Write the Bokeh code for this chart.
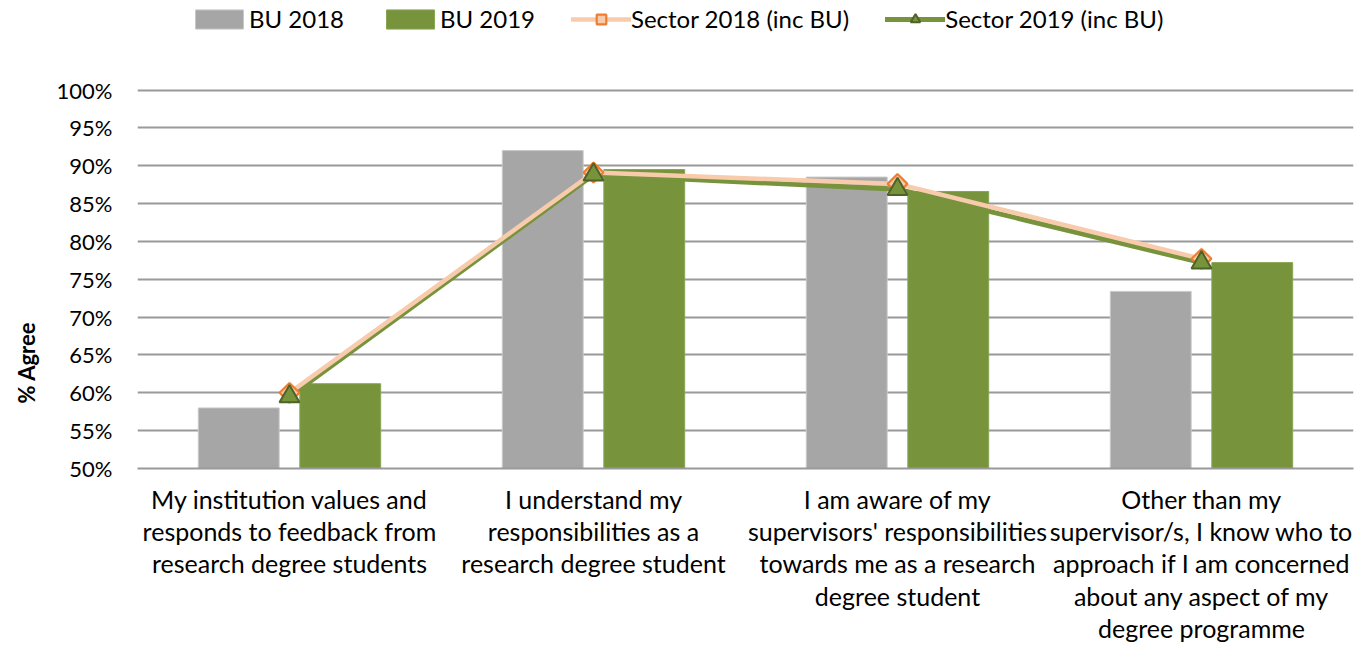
import math
from bokeh.plotting import figure
from bokeh.models import (ColumnDataSource, FactorRange, Range1d, Legend, LegendItem,
                          PrintfTickFormatter, FixedTicker, Title)
from bokeh.transform import dodge
from bokeh.embed import file_html
from bokeh.resources import INLINE

categories = [
    "My institution values and\nresponds to feedback from\nresearch degree students",
    "I understand my\nresponsibilities as a\nresearch degree student",
    "I am aware of my\nsupervisors' responsibilities\ntowards me as a research\ndegree student",
    "Other than my\nsupervisor/s, I know who to\napproach if I am concerned\nabout any aspect of my\ndegree programme",
]
bu_2018 = [58.0, 92.0, 88.5, 73.4]
bu_2019 = [61.2, 89.5, 86.6, 77.2]
sector_2018 = [60.0, 89.1, 87.6, 77.7]
sector_2019 = [59.5, 88.8, 86.9, 77.2]
y_ticks = [50, 55, 60, 65, 70, 75, 80, 85, 90, 95, 100]

src = ColumnDataSource(dict(cat=categories, bu18=bu_2018, bu19=bu_2019,
                            s18=sector_2018, s19=sector_2019))

FONT = "Lato"
GRID = "#999999"

# the frame reaches the top of the canvas so that the legend can sit inside it
p = figure(width=1371, height=648, output_backend="svg", toolbar_location=None,
           x_range=FactorRange(*categories, range_padding=0),
           y_range=Range1d(50, 111.83),
           min_border_left=137, min_border_right=18, min_border_top=0,
           min_border_bottom=180)
p.outline_line_color = None
p.background_fill_color = "white"

b1 = p.vbar(x=dodge("cat", -0.167, range=p.x_range), top="bu18", bottom=50, width=0.266,
            source=src, fill_color="#a6a6a6", line_color="#c8c8c8", line_width=1)
b2 = p.vbar(x=dodge("cat", 0.167, range=p.x_range), top="bu19", bottom=50, width=0.266,
            source=src, fill_color="#77933c", line_color="#8aa654", line_width=1)

l19 = p.line(x="cat", y="s19", source=src, line_color="#77933c", line_width=5,
             line_cap="round")
l18 = p.line(x="cat", y="s18", source=src, line_color="#f8cbad", line_width=4.5,
             line_cap="round")
m18 = p.scatter(x="cat", y="s18", source=src, marker="square", angle=math.pi / 4,
                size=14, fill_color="#f8cbad", line_color="#ed7d31", line_width=2.2)
m19 = p.scatter(x="cat", y="s19", source=src, marker="triangle", size=20,
                fill_color="#77933c", line_color="#4f6228", line_width=2)

# axes
p.yaxis.ticker = FixedTicker(ticks=y_ticks)
p.yaxis.formatter = PrintfTickFormatter(format="%d%%")
p.yaxis.axis_line_color = None
p.yaxis.major_tick_line_color = None
p.yaxis.minor_tick_line_color = None
p.yaxis.major_tick_out = 0
p.yaxis.major_label_standoff = 25
p.yaxis.major_label_text_font = FONT
p.yaxis.major_label_text_font_size = "22px"
p.yaxis.major_label_text_color = "#000000"

p.xaxis.axis_line_color = GRID
p.xaxis.axis_line_width = 2
p.xaxis.major_tick_line_color = None
p.xaxis.minor_tick_line_color = None
p.xaxis.major_tick_out = 0
p.xaxis.major_label_standoff = 15
p.xaxis.major_label_text_font = FONT
p.xaxis.major_label_text_font_size = "25px"
p.xaxis.major_label_text_color = "#000000"
p.xaxis.major_label_text_line_height = 1.08

p.xgrid.grid_line_color = None
p.ygrid.ticker = FixedTicker(ticks=y_ticks)
p.ygrid.grid_line_color = GRID
p.ygrid.grid_line_width = 2

ytitle = Title(text="% Agree", align="left", offset=65, standoff=24, vertical_align="top",
               text_font=FONT, text_font_size="22px", text_font_style="bold",
               text_color="#000000")
p.add_layout(ytitle, "left")

legend = Legend(items=[
    LegendItem(label="BU 2018", renderers=[b1]),
    LegendItem(label="BU 2019", renderers=[b2]),
    LegendItem(label="Sector 2018 (inc BU)", renderers=[l18, m18]),
    LegendItem(label="Sector 2019 (inc BU)", renderers=[l19, m19]),
], orientation="horizontal", location=(52, 435), border_line_color=None,
    background_fill_alpha=0, padding=0, margin=0, spacing=36, label_standoff=0,
    glyph_width=60, glyph_height=24, label_height=22,
    label_text_font=FONT, label_text_font_size="24px", label_text_color="#000000")
p.add_layout(legend)

open("out.html", "w").write(file_html(p, INLINE))
